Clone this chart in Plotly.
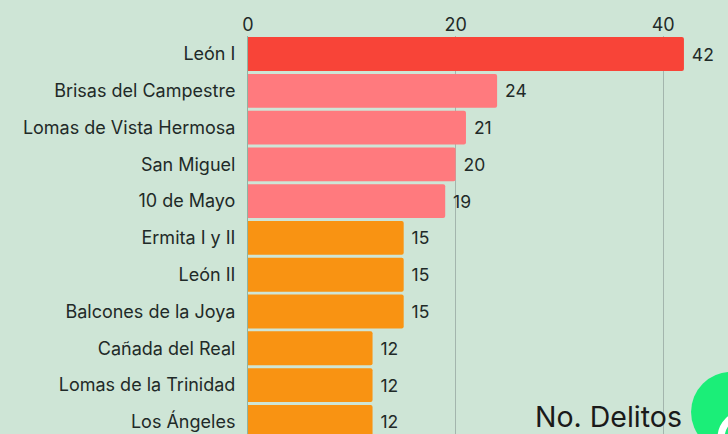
import plotly.graph_objects as go

categories = ["León I", "Brisas del Campestre", "Lomas de Vista Hermosa", "San Miguel", "10 de Mayo",
              "Ermita I y II", "León II", "Balcones de la Joya", "Cañada del Real", "Lomas de la Trinidad", "Los Ángeles"]
values = [42, 24, 21, 20, 19, 15, 15, 15, 12, 12, 12]
bar_colors = ["#f84438"] + ["#ff7a7e"] * 4 + ["#f99312"] * 6
tick_vals = [0, 20, 40]

W, H = 728, 434
L, R, T = 247.5, 0, 36
FONT = "Inter"
SIZE = 18
TXT = "#1f2a28"

def px_x(p):
    return (p - L) / (W - L)

def px_y(p):
    return (H - p) / (H - T)

fig = go.Figure(go.Bar(
    y=categories, x=values, orientation="h",
    marker=dict(color=bar_colors, line=dict(width=0), cornerradius=2),
    width=0.92,
    text=["\u00a0" + str(v) for v in values],
    textposition="outside", cliponaxis=False,
    textfont=dict(family=FONT, size=SIZE - 0.5, color=TXT),
))
fig.update_layout(
    width=W, height=H, margin=dict(l=L, r=R, t=T, b=0),
    paper_bgcolor="#cee5d6", plot_bgcolor="#cee5d6",
    showlegend=False,
    font=dict(family=FONT, size=SIZE, color=TXT),
    xaxis=dict(side="top", range=[0, (W - L) / 10.39], tickvals=tick_vals, ticks="", ticklen=0,
               showgrid=True, gridcolor="#a3b5ad", gridwidth=1, zeroline=False,
               showline=False, tickfont=dict(family=FONT, size=SIZE, color=TXT)),
    yaxis=dict(autorange=False, range=[10.33, -0.49], categoryorder="array", categoryarray=categories,
               ticks="outside", ticklen=8, tickcolor="rgba(0,0,0,0)", showgrid=False, zeroline=False,
               showline=True, linecolor="#8fb3a3", linewidth=1,
               tickfont=dict(family=FONT, size=SIZE, color=TXT)),
    annotations=[dict(text="No. Delitos", xref="paper", yref="paper", x=px_x(684), y=0.0,
                      xanchor="right", yanchor="bottom", yshift=-2, showarrow=False,
                      font=dict(family=FONT, size=28.5, color="#1a1a1a"))],
    shapes=[
        dict(type="circle", xref="paper", yref="paper", layer="above",
             x0=px_x(691), x1=px_x(771), y0=px_y(452), y1=px_y(372),
             fillcolor="#1bee78", line=dict(width=0)),
        dict(type="circle", xref="paper", yref="paper", layer="above",
             x0=px_x(721), x1=px_x(769), y0=px_y(462), y1=px_y(414),
             fillcolor="rgba(0,0,0,0)", line=dict(width=7, color="#ffffff")),
    ],
)
fig.write_html("out.html", config=dict(displayModeBar=False),
               post_script="document.body.style.margin='0';document.documentElement.style.background='#cee5d6';")
